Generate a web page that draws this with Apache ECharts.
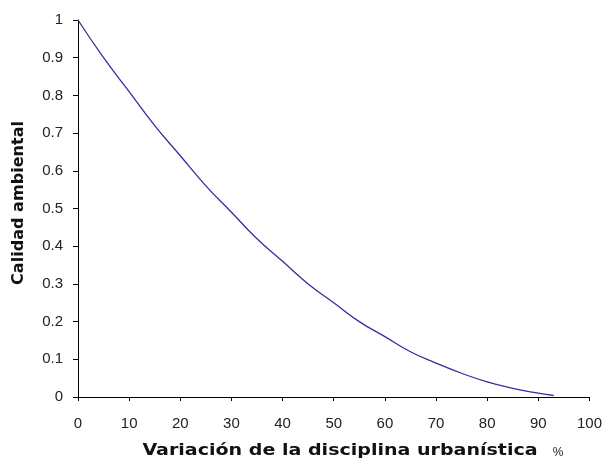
<!DOCTYPE html>
<html>
<head>
<meta charset="utf-8">
<script src="https://cdn.jsdelivr.net/npm/echarts@6/dist/echarts.min.js"></script>
<style>html,body{margin:0;padding:0;background:#fff;}#c{width:605px;height:462px;}</style>
</head>
<body>
<div id="c"></div>
<script>
const xValues = [0, 5, 10, 15, 20, 25, 30, 35, 40, 45, 50, 55, 60, 65, 70, 75, 80, 85, 90, 93];
const yValues = [1, 0.90, 0.81, 0.72, 0.64, 0.56, 0.49, 0.42, 0.36, 0.30, 0.25, 0.20, 0.16, 0.12, 0.09, 0.063, 0.04, 0.023, 0.01, 0.004];
const xTitle = 'Variación de la disciplina urbanística';
const xUnit = '%';
const yTitle = 'Calidad ambiental';

const chart = echarts.init(document.getElementById('c'), null, {renderer: 'canvas'});
const font = '"Liberation Sans", Arial, sans-serif';
chart.setOption({
  animation: false,
  backgroundColor: '#fff',
  grid: {left: 78, right: 14, top: 20, bottom: 65},
  xAxis: {
    type: 'value', min: 0, max: 100, interval: 10,
    axisLine: {lineStyle: {color: '#000', width: 1}},
    axisTick: {show: true, length: 4, inside: false, lineStyle: {color: '#000'}},
    axisLabel: {color: '#222', fontFamily: font, fontSize: 15, margin: 19},
    splitLine: {show: false}
  },
  yAxis: {
    type: 'value', min: 0, max: 1, interval: 0.1,
    axisLine: {show: true, lineStyle: {color: '#000', width: 1}},
    axisTick: {show: true, length: 5, inside: false, lineStyle: {color: '#000'}},
    axisLabel: {color: '#222', fontFamily: font, fontSize: 15, margin: 15,
      formatter: v => (Math.round(v * 10) / 10).toString()},
    splitLine: {show: false}
  },
  graphic: [
    {type: 'text', x: 340, y: 451, scaleX: 1.19,
      style: {text: xTitle, font: 'bold 16px "DejaVu Sans", sans-serif', fill: '#111', align: 'center', verticalAlign: 'middle'}},
    {type: 'text', x: 558, y: 453,
      style: {text: xUnit, font: '12px ' + font, fill: '#222', align: 'center', verticalAlign: 'middle'}},
    {type: 'text', x: 19, y: 203, rotation: Math.PI / 2, scaleX: 1.19,
      style: {text: yTitle, font: 'bold 15px "DejaVu Sans Condensed", "DejaVu Sans", sans-serif', fill: '#111', align: 'center', verticalAlign: 'middle'}}
  ],
  series: [{
    type: 'line',
    data: xValues.map((x, i) => [x, yValues[i]]),
    smooth: true,
    showSymbol: false,
    lineStyle: {color: '#30309e', width: 1.3}
  }]
});
</script>
</body>
</html>
